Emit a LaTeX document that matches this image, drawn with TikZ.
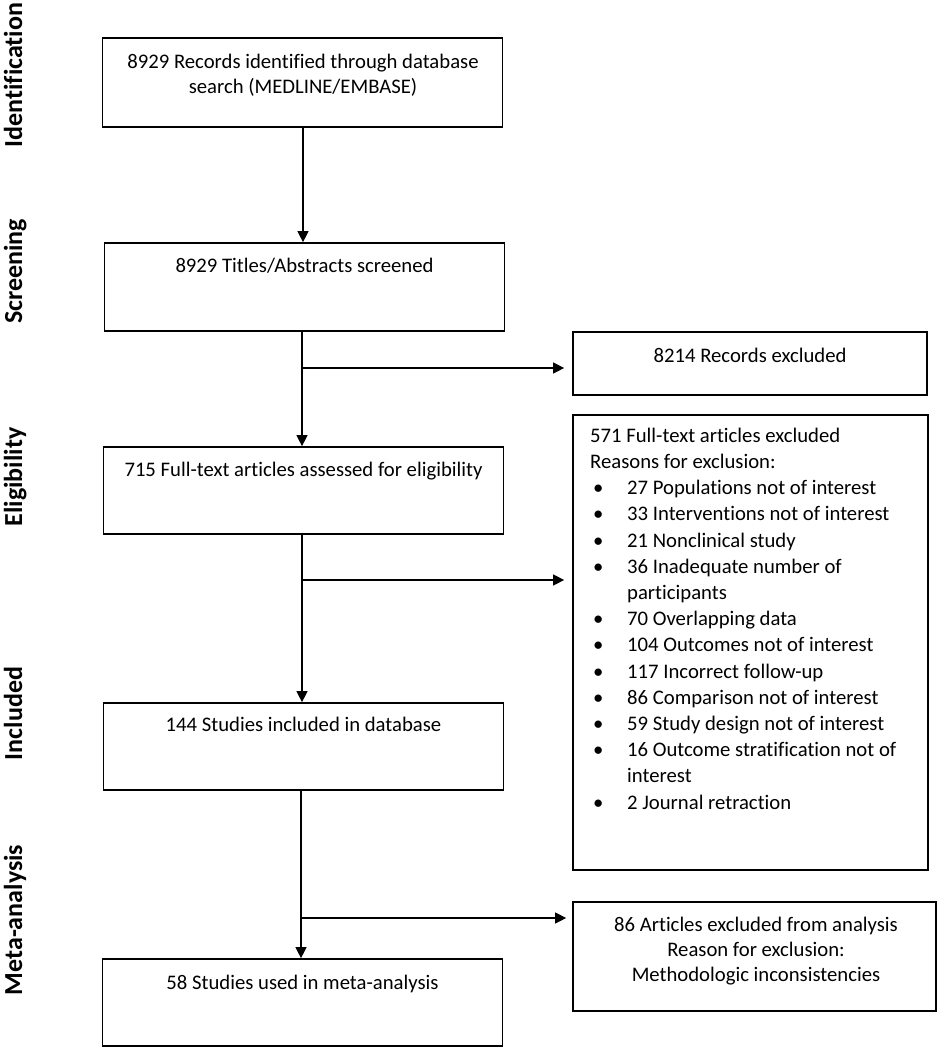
\documentclass[tikz,border=0pt]{standalone}
\usepackage{fontspec}
\setmainfont{Carlito}[Ligatures=NoCommon]
\usetikzlibrary{arrows.meta}
\begin{document}
\begin{tikzpicture}[x=1pt,y=-1pt,
  box/.style={draw=black, line width=1.7pt, rectangle, inner sep=0pt},
  txt/.style={inner sep=0pt, text height=15pt, font=\fontsize{20.7}{25}\selectfont},
  mtxt/.style={inner sep=0pt, font=\fontsize{20.7}{25}\selectfont},
  side/.style={rotate=90, anchor=base, inner sep=0pt, font=\fontsize{26}{30}\selectfont\bfseries},
  arr/.style={line width=1.2pt, -{Triangle[length=11pt,width=11pt]}},
  ln/.style={line width=1.2pt}]
\useasboundingbox (0,0) rectangle (938,1050);
\newcommand{\bul}{\hspace*{3pt}\makebox[34pt][l]{•}}
\newcommand{\ind}{\hspace*{37pt}}
\newcommand{\fl}{\rule{0pt}{16pt}}
% side labels
\node[side] (l1) at (22,75) {Identification};
\node[side] (l2) at (22,271.5) {Screening};
\node[side] (l3) at (22,477) {Eligibility};
\node[side] (l4) at (22,713.5) {Included};
\node[side] (l5) at (22,920) {Meta-analysis};
% main boxes
\node[box, minimum width=400pt, minimum height=89pt] (b1) at (302.5,82.5) {};
\node[box, minimum width=400pt, minimum height=88pt] (b2) at (304.5,287) {};
\node[box, minimum width=400pt, minimum height=87pt] (b3) at (303.5,490.5) {};
\node[box, minimum width=400pt, minimum height=87pt] (b4) at (303.5,746.5) {};
\node[box, minimum width=400pt, minimum height=87pt] (b5) at (302.5,1002.5) {};
% exclusion boxes
\node[box, minimum width=354pt, minimum height=63pt] (e1) at (750,363.5) {};
\node[box, minimum width=355pt, minimum height=455pt] (e2) at (750.5,642.5) {};
\node[box, minimum width=363pt, minimum height=109pt] (e3) at (754.5,956.5) {};
% texts
\node[mtxt, anchor=north, align=center] (t1) at (303,52) {\fl 8929 Records identified through database\\search (MEDLINE/EMBASE)};
\node[txt, anchor=north] (t2) at (304.5,257) {8929 Titles/Abstracts screened};
\node[txt, anchor=north] (t3) at (303.5,461) {715 Full-text articles assessed for eligibility};
\node[txt, anchor=north] (t4) at (303.5,716) {144 Studies included in database};
\node[txt, anchor=north] (t5) at (302.5,974) {58 Studies used in meta-analysis};
\node[txt, anchor=north] (te1) at (750,347) {8214 Records excluded};
\node[mtxt, anchor=north west, align=left, font=\fontsize{20.7}{26.2}\selectfont] (te2) at (590,426) {\fl 571 Full-text articles excluded\\
Reasons for exclusion:\\
\bul 27 Populations not of interest\\
\bul 33 Interventions not of interest\\
\bul 21 Nonclinical study\\
\bul 36 Inadequate number of\\
\ind participants\\
\bul 70 Overlapping data\\
\bul 104 Outcomes not of interest\\
\bul 117 Incorrect follow-up\\
\bul 86 Comparison not of interest\\
\bul 59 Study design not of interest\\
\bul 16 Outcome stratification not of\\
\ind interest\\
\bul 2 Journal retraction};
\node[mtxt, anchor=north, align=center] (te3) at (756,915) {\fl 86 Articles excluded from analysis\\Reason for exclusion:\\Methodologic inconsistencies};
% connectors
\draw[arr] (b1.south -| 303,0) -- (b2.north -| 303,0);
\draw[arr] (b2.south -| 302,0) -- (b3.north -| 302,0);
\draw[arr] (b3.south -| 302,0) -- (b4.north -| 302,0);
\draw[arr] (b4.south -| 301,0) -- (b5.north -| 301,0);
\coordinate (j1) at (302,368);
\coordinate (j2) at (302,580);
\coordinate (j3) at (301,918);
\draw[arr, shorten >=8pt] (j1) -- (j1 -| e1.west);
\draw[arr, shorten >=8pt] (j2) -- (j2 -| e2.west);
\draw[arr, shorten >=6pt] (j3) -- (j3 -| e3.west);
\end{tikzpicture}
\end{document}
